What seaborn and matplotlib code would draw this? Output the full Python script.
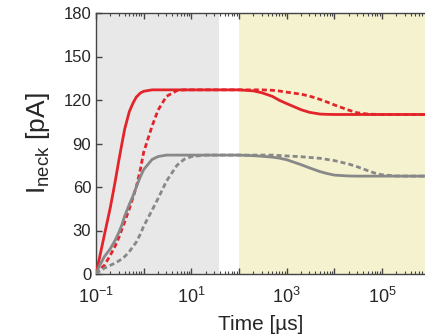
import numpy as np
import pandas as pd
import matplotlib
matplotlib.use("Agg")
import matplotlib.pyplot as plt
import seaborn as sns

# time points [us] and read-off currents [pA]
time_us = [0.1, 0.12, 0.15, 0.2, 0.25, 0.3, 0.35, 0.4, 0.5, 0.6, 0.7, 0.85, 1, 1.5, 2, 3, 5, 7, 10, 20,
           50, 100, 200, 300, 500, 700, 1e3, 2e3, 3e3, 5e3, 7e3, 1e4, 2e4, 3e4,
           5e4, 7e4, 1e5, 2e5, 5e5, 8e5]

red_solid = [0, 12, 27, 46, 63, 78, 90, 100, 112, 118, 122, 124.8, 126, 127, 127, 127, 127, 127, 127, 127,
             127, 127, 126.3, 125, 122.5, 119.8, 117.5, 113.3, 111.5, 110.3, 110.1, 110, 110, 110,
             110, 110, 110, 110, 110, 110]
red_dash = [0, 3, 6, 13, 19, 25, 31, 36, 45, 53, 60, 72, 84, 102, 113, 122.5, 126.5, 127, 127, 127,
            127, 127, 127, 127, 126.7, 126.2, 125.4, 124, 122.7, 120.4, 118.6, 116.6, 113, 111.2,
            110.3, 110.1, 110, 110, 110, 110]
gray_solid = [0, 6, 12, 17.5, 23, 28.5, 34, 40, 48, 54, 60, 67, 72, 79, 81, 82, 82, 82, 82, 82,
              82, 82, 81.6, 81.2, 80.6, 79.9, 78.8, 75.4, 73.2, 70.6, 69.3, 68.2, 67.6, 67.5,
              67.5, 67.5, 67.5, 67.5, 67.5, 67.5]
gray_dash = [0, 2, 4, 6, 7.5, 9, 10.5, 12, 15.5, 19, 22, 27.5, 33, 44, 52, 64, 75, 79, 81, 82,
             82, 82, 82, 82, 82, 81.7, 81.4, 80.9, 80.4, 79.8, 79, 78.2, 75.8, 74,
             71.3, 69.6, 68.4, 67.6, 67.5, 67.5]

series = {"red_solid": red_solid, "red_dash": red_dash,
          "gray_solid": gray_solid, "gray_dash": gray_dash}

df = pd.concat([pd.DataFrame({"time": time_us, "current": v, "series": k})
                for k, v in series.items()], ignore_index=True)

sns.set_style("ticks")
plt.rcParams["font.family"] = ["Liberation Sans", "DejaVu Sans"]
plt.rcParams["mathtext.default"] = "regular"

fig = plt.figure(figsize=(4.25, 3.34), dpi=100)
ax = fig.add_axes([96 / 425, 60 / 334, 329 / 425, 261 / 334])

x_max = 10 ** 5.9
ax.axvspan(0.1, 38, color="#e8e8e8", lw=0, zorder=0)
ax.axvspan(100, x_max, color="#f4f2cf", lw=0, zorder=0)

red = "#e3242b"
gray = "#888888"
sns.lineplot(data=df, x="time", y="current", hue="series", style="series",
             palette={"red_solid": red, "red_dash": red, "gray_solid": gray, "gray_dash": gray},
             dashes={"red_solid": "", "red_dash": (1.8, 1.1), "gray_solid": "", "gray_dash": (1.8, 1.1)},
             linewidth=2, legend=False, ax=ax, zorder=3)

ax.set_xscale("log")
ax.set_xlim(0.1, x_max)
ax.set_ylim(0, 180)
ax.set_yticks(range(0, 181, 30))

decades = [10.0 ** e for e in range(-1, 6)]
ax.set_xticks(decades)
ax.set_xticklabels([rf"$10^{{{e}}}$" if e % 2 else "" for e in range(-1, 6)])
ax.xaxis.set_minor_locator(matplotlib.ticker.LogLocator(base=10, subs=np.arange(2, 10), numticks=30))
ax.xaxis.set_minor_formatter(matplotlib.ticker.NullFormatter())

ax.tick_params(axis="both", which="both", direction="in", labelsize=12, color="#444444")
ax.tick_params(axis="x", which="both", top=True)
ax.tick_params(which="major", length=4, width=1)
ax.tick_params(which="minor", length=2, width=0.8)
ax.tick_params(axis="x", labelsize=13, pad=9)

for side in ["left", "top", "bottom"]:
    ax.spines[side].set_color("#444444")
    ax.spines[side].set_linewidth(1)
ax.spines["right"].set_visible(False)

ax.set_xlabel("Time [µs]", fontsize=15, labelpad=6)
ax.set_ylabel(r"I$_{neck}$ [pA]", fontsize=19, labelpad=8)

fig.savefig("out.png", dpi=100)
